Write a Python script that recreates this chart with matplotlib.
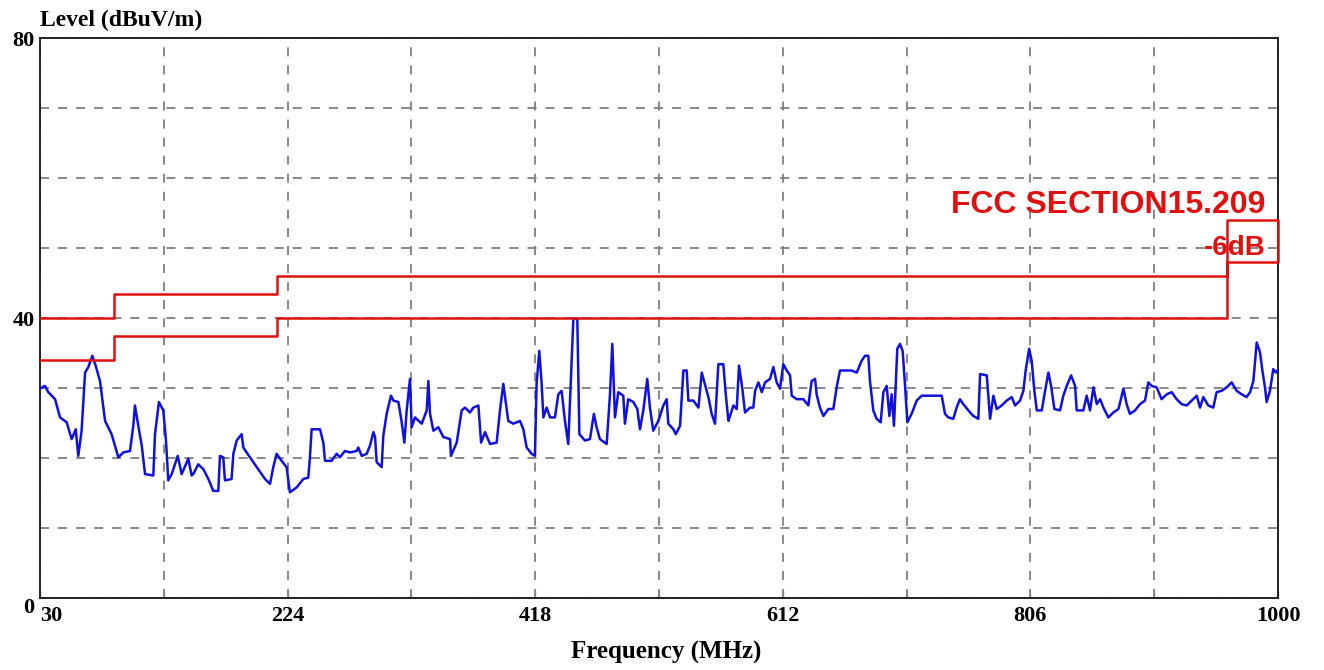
import matplotlib
matplotlib.use("Agg")
import matplotlib.pyplot as plt

# ---- data ----
freq_mhz = [30.0, 33.9, 36.5, 41.8, 45.7, 50.9, 54.8, 58.0, 60.0, 62.6, 65.3, 67.9, 71.0, 73.6, 77.0,
            81.0, 86.1, 91.4, 95.3, 100.5, 103.1, 104.4, 107.0, 109.7, 112.3, 118.8, 120.1, 123.2,
            126.6, 128.7, 130.5, 133.2, 137.9, 141.0, 146.2, 148.8, 150.1, 154.0, 158.0, 161.9,
            165.8, 169.7, 171.0, 173.6, 174.9, 180.1, 181.5, 184.1, 188.0, 189.3, 194.5, 201.0,
            206.3, 210.2, 212.8, 215.4, 219.3, 223.2, 225.8, 231.1, 236.3, 240.2, 241.5, 242.8,
            249.4, 252.0, 253.3, 258.5, 262.4, 265.0, 268.9, 272.9, 278.1, 279.4, 282.1, 286.0,
            288.6, 291.2, 292.5, 293.8, 297.7, 299.0, 301.6, 305.0, 306.9, 310.8, 313.4, 315.5,
            317.3, 319.9, 321.2, 323.8, 329.1, 333.0, 334.3, 335.6, 338.2, 342.1, 346.0, 351.3,
            352.0, 356.5, 360.4, 363.0, 366.9, 369.5, 373.5, 375.6, 378.7, 382.6, 387.8, 390.4,
            393.0, 395.6, 396.9, 400.8, 406.1, 408.7, 411.3, 415.2, 417.8, 419.1, 421.2, 423.0,
            424.4, 427.0, 429.6, 433.5, 436.1, 438.7, 441.3, 443.9, 445.8, 447.9, 451.0, 452.6,
            457.0, 460.9, 464.0, 466.1, 468.7, 474.0, 476.6, 478.4, 480.5, 483.1, 487.0, 488.3,
            490.9, 494.9, 498.0, 500.1, 502.7, 505.8, 507.9, 510.5, 514.5, 518.4, 521.0, 522.3,
            526.3, 528.1, 531.5, 534.1, 536.7, 538.0, 541.9, 545.9, 548.5, 550.6, 553.7, 556.3,
            558.9, 561.5, 565.4, 567.3, 569.4, 573.3, 575.9, 577.7, 580.3, 582.4, 586.3, 588.9,
            590.3, 592.9, 595.5, 598.1, 602.0, 604.6, 607.2, 609.8, 612.4, 615.1, 617.7, 619.0,
            622.9, 628.1, 632.0, 634.6, 637.3, 638.5, 641.1, 643.8, 647.7, 651.6, 654.2, 656.8,
            662.0, 666.0, 669.9, 673.8, 676.4, 679.0, 680.3, 682.9, 685.5, 688.7, 690.8, 693.4,
            695.5, 697.3, 699.1, 701.7, 703.8, 705.9, 707.7, 709.6, 712.9, 716.9, 720.8, 727.3,
            733.8, 736.5, 739.1, 741.7, 745.6, 748.2, 750.8, 753.4, 757.4, 761.3, 765.2, 766.6,
            771.8, 774.4, 777.0, 779.6, 783.5, 787.4, 791.4, 794.0, 797.9, 800.5, 802.3, 805.0,
            807.0, 809.1, 811.0, 814.9, 817.5, 820.1, 822.2, 824.8, 829.2, 831.8, 834.5, 837.9,
            841.0, 842.3, 847.5, 850.1, 852.7, 855.4, 858.0, 860.6, 863.2, 867.1, 871.0, 875.0,
            878.9, 881.4, 884.0, 888.0, 891.9, 895.8, 898.4, 901.0, 904.9, 908.8, 912.8, 916.7,
            920.6, 924.5, 928.4, 932.3, 936.3, 938.9, 941.5, 945.4, 949.3, 951.9, 955.9, 959.8,
            963.7, 967.6, 971.5, 975.4, 978.1, 980.7, 983.3, 985.9, 988.0, 989.8, 991.1, 993.7,
            996.3, 998.4, 1000.0]
level_dbuv = [29.9, 30.3, 29.4, 28.4, 25.8, 25.1, 22.7, 24.1, 20.3, 23.9, 32.2, 33.0, 34.6, 33.2, 31.0,
              25.3, 23.4, 20.1, 20.8, 21.0, 24.6, 27.5, 24.6, 21.8, 17.7, 17.5, 23.4, 28.0,
              26.8, 22.5, 16.8, 17.7, 20.3, 17.7, 19.9, 17.5, 17.7, 19.1, 18.4, 17.0,
              15.3, 15.3, 20.3, 20.1, 16.8, 17.0, 20.6, 22.5, 23.4, 21.5, 20.1, 18.4,
              17.0, 16.3, 18.7, 20.6, 19.6, 18.7, 15.1, 15.8, 17.0, 17.2, 20.1, 24.1,
              24.1, 22.2, 19.6, 19.6, 20.6, 20.1, 21.0, 20.8, 21.0, 21.5, 20.3, 20.6,
              21.8, 23.7, 23.0, 19.4, 18.7, 23.2, 26.3, 28.9, 28.2, 28.0, 25.1, 22.2,
              26.8, 31.3, 24.4, 25.8, 24.9, 26.8, 31.0, 26.3, 23.9, 24.4, 23.0, 22.7,
              20.3, 22.2, 26.8, 27.2, 26.5, 27.2, 27.5, 22.2, 23.7, 22.0, 22.2, 26.8,
              30.6, 27.0, 25.3, 24.9, 25.3, 24.1, 21.5, 20.6, 20.3, 30.6, 35.3, 30.8,
              25.8, 27.2, 25.8, 25.8, 29.1, 29.6, 25.3, 22.0, 30.6, 39.9, 39.9, 23.4,
              22.5, 22.7, 26.3, 24.4, 22.7, 22.0, 29.1, 36.3, 25.8, 29.4, 28.9, 24.9,
              28.4, 28.0, 27.0, 24.1, 26.8, 31.3, 27.2, 23.9, 25.3, 27.5, 28.4, 24.9,
              24.1, 23.4, 24.6, 32.5, 32.5, 28.2, 28.2, 27.2, 32.2, 30.8, 28.7, 26.3,
              24.9, 33.4, 33.4, 29.1, 25.3, 27.5, 27.0, 33.2, 29.9, 26.5, 27.2, 27.2,
              29.6, 30.8, 29.4, 30.8, 31.3, 33.0, 30.8, 29.9, 33.4, 32.5, 31.8, 28.9,
              28.4, 28.4, 27.5, 31.0, 31.3, 29.1, 27.2, 26.0, 27.0, 27.0, 30.1, 32.5,
              32.5, 32.5, 32.2, 33.9, 34.6, 34.6, 31.0, 26.8, 25.6, 25.1, 29.4, 30.3,
              26.0, 29.1, 24.6, 35.6, 36.3, 35.3, 30.6, 25.1, 26.3, 28.2, 28.9, 28.9,
              28.9, 28.9, 26.3, 25.8, 25.6, 27.2, 28.4, 27.7, 26.8, 26.0, 25.6, 32.0,
              31.8, 25.6, 28.9, 27.0, 27.5, 28.2, 28.7, 27.5, 28.2, 29.6, 32.5, 35.6,
              33.9, 29.6, 26.8, 26.8, 29.6, 32.2, 30.3, 27.0, 26.8, 28.9, 30.3, 31.8,
              30.3, 26.8, 26.8, 28.9, 26.8, 30.1, 27.7, 28.4, 27.2, 25.8, 26.5, 27.0,
              29.9, 27.7, 26.3, 26.8, 27.7, 28.2, 30.8, 30.3, 30.1, 28.4, 29.1, 29.4,
              28.4, 27.7, 27.5, 28.2, 28.9, 27.2, 28.7, 27.5, 27.2, 29.4, 29.6, 30.1,
              30.8, 29.6, 29.1, 28.7, 29.4, 31.0, 36.5, 35.1, 32.2, 30.1, 28.0, 29.6,
              32.7, 32.2, 32.6]

# FCC 15.209 limit and the -6 dB margin line (drawn as one red outline)
limit_freq = [30, 88, 88, 216, 216, 960, 960, 1000, 1000, 960, 960, 216, 216, 88, 88, 30]
limit_level = [40, 40, 43.5, 43.5, 46, 46, 54, 54, 48, 48, 40, 40, 37.5, 37.5, 34, 34]

x_ticks = [30, 127, 224, 321, 418, 515, 612, 709, 806, 903, 1000]
x_tick_labels = ["30", "", "224", "", "418", "", "612", "", "806", "", "1000"]
y_ticks = [0, 10, 20, 30, 40, 50, 60, 70, 80]
y_tick_labels = ["0", "", "", "", "40", "", "", "", "80"]

# ---- figure ----
fig = plt.figure(figsize=(13.24, 6.70), dpi=100)
ax = fig.add_axes([40 / 1324, 1 - 598 / 670, 1238 / 1324, 560 / 670])

serif = ["Liberation Serif", "DejaVu Serif"]
sans = ["Liberation Sans", "DejaVu Sans"]

ax.set_xlim(30, 1000)
ax.set_ylim(0, 80)
ax.set_xticks(x_ticks)
ax.set_xticklabels(x_tick_labels, fontfamily=serif, fontweight="bold", fontsize=16)
ax.set_yticks(y_ticks)
ax.set_yticklabels(y_tick_labels, fontfamily=serif, fontweight="bold", fontsize=16)
ax.get_xticklabels()[0].set_ha("left")
ax.tick_params(axis="x", direction="in", length=5, width=1, color="#888888", pad=6)
ax.tick_params(axis="y", length=0, pad=4)
ylabs = ax.get_yticklabels()
ylabs[0].set_va("top")

ax.grid(True, color="#808080", linestyle=(0, (5, 5)), linewidth=1.3)
for s in ax.spines.values():
    s.set_color("#222222")
    s.set_linewidth(1.4)

ax.plot(freq_mhz, level_dbuv, color="#1010e0", linewidth=1.8, zorder=3)
ax.plot(limit_freq, limit_level, color="#e01010", linewidth=1.8, zorder=4, clip_on=False)

ax.text(990, 56.1, "FCC SECTION15.209", color="#e01010", fontfamily=sans, fontweight="bold",
        fontsize=23, ha="right", va="center", zorder=5)
ax.text(990, 50.0, "-6dB", color="#e01010", fontfamily=sans, fontweight="bold",
        fontsize=20, ha="right", va="center", zorder=5)

fig.text(40 / 1324, 1 - 20 / 670, "Level (dBuV/m)", fontfamily=serif, fontweight="bold",
         fontsize=17, ha="left", va="center")
fig.text(666 / 1324, 1 - 652 / 670, "Frequency (MHz)", fontfamily=serif, fontweight="bold",
         fontsize=18, ha="center", va="center")

fig.savefig("out.png", dpi=100, facecolor="white")
